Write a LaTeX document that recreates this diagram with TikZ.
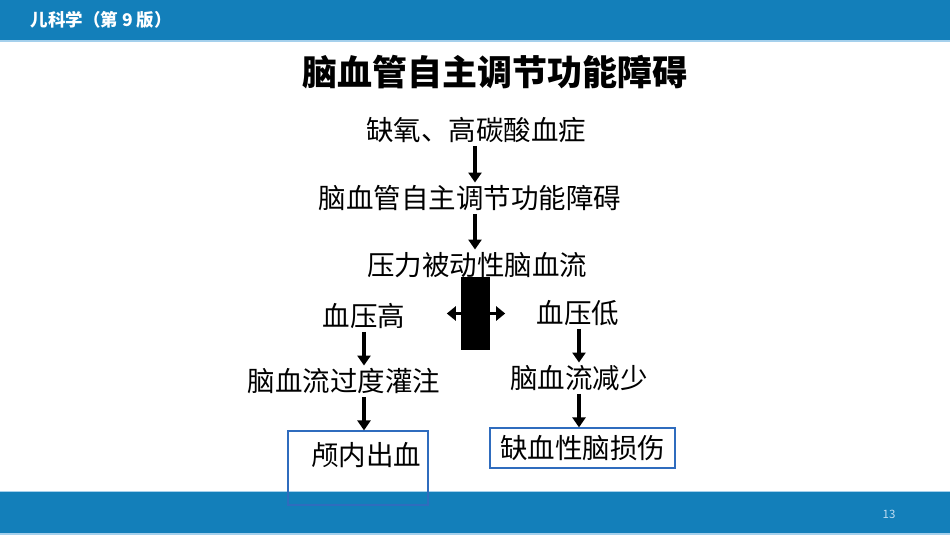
\documentclass[tikz,border=0pt]{standalone}
\usepackage{fontspec}
\setmainfont{Noto Sans CJK SC}
\usepackage{xcolor}
\usetikzlibrary{positioning,calc,arrows.meta}

\definecolor{barblue}{RGB}{19,127,186}
\definecolor{barline}{RGB}{165,208,236}
\definecolor{boxblue}{RGB}{47,108,190}
\definecolor{pagenum}{RGB}{190,220,242}

\begin{document}
\begin{tikzpicture}[
		x=1pt,y=-1pt,
		line cap=butt,line join=miter,
		txt/.style={inner sep=0pt, font=\fontsize{27.5}{30}\selectfont, text height=24pt, text depth=3.5pt},
		flow/.style={-{Triangle[width=13pt,length=10pt]}, line width=4.5pt, shorten <=2pt, shorten >=1.5pt},
		box/.style={draw=boxblue, line width=1.2pt, inner sep=0pt}
		]
		% ---- page
		\useasboundingbox (0,0) rectangle (950,535);
		
		% top bar
		\fill[barblue] (0,0) rectangle (950,40);
		\fill[barline] (0,40) rectangle (950,42);
		\node[anchor=west, text=white, font=\bfseries\fontsize{17.5}{20}\selectfont] (course) at (27,20) {儿科学（第 9 版）};
		
		% bottom bar
		\fill[barline] (0,490.5) rectangle (950,492);
		\fill[barblue] (0,492) rectangle (950,533);
		\fill[barline] (0,533) rectangle (950,535);
		\node[text=pagenum, font=\fontsize{11.5}{13}\selectfont] (page) at (889,514) {13};
		
		% heading
		\node[font=\bfseries\fontsize{35}{40}\selectfont] (head) at (495,72) {脑血管自主调节功能障碍};
		
		% ---- columns of the arrows
		\coordinate (colM) at (475,0);
		\coordinate (colL) at (364,0);
		\coordinate (colR) at (579,0);
		
		% ---- main chain
		\node[txt] (cause)   at (476,130) {缺氧、高碳酸血症};
		\node[txt] (autoreg) at (470,198) {脑血管自主调节功能障碍};
		\node[txt] (passive) at (477,265) {压力被动性脑血流};
		
		\draw[flow] (cause.south -| colM) -- (autoreg.north -| colM);
		\draw[flow] (autoreg.south -| colM) -- (passive.north -| colM);
		
		% fork
		\node[fill=black, minimum width=29pt, minimum height=73pt, inner sep=0pt] (fork) at (475.5,313.5) {};
		\draw[line width=3pt, {Triangle[width=14pt,length=9pt]}-{Triangle[width=14pt,length=9pt]}]
		([xshift=-14pt]fork.west) -- ([xshift=15pt]fork.east);
		
		% ---- left branch
		\node[txt] (high) at (364,316) {血压高};
		\node[txt] (over) at (344,381) {脑血流过度灌注};
		\node[box, minimum width=140pt, minimum height=74pt] (ich) at (358,468) {};
		\node[txt] (ichtxt) at (366,455) {颅内出血};
		
		\draw[flow] (high.south -| colL) -- (over.north -| colL);
		\draw[flow, shorten >=0pt] (over.south -| colL) -- (ich.north -| colL);
		
		% ---- right branch
		\node[txt] (low)  at (578,313) {血压低};
		\node[txt] (less) at (579,378) {脑血流减少};
		\node[txt, box, minimum width=185pt, minimum height=40pt] (hie) at (582.5,448) {缺血性脑损伤};
		
		\draw[flow] (low.south -| colR) -- (less.north -| colR);
		\draw[flow, shorten >=0pt] (less.south -| colR) -- (hie.north -| colR);
	\end{tikzpicture}
\end{document}
